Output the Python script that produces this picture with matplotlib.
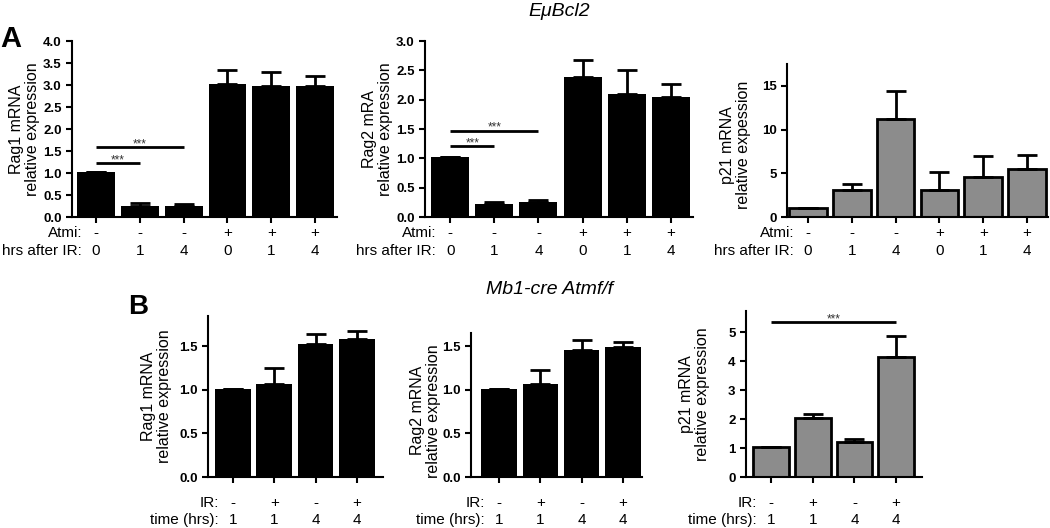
import numpy as np
import matplotlib
matplotlib.use("Agg")
import matplotlib.pyplot as plt

plt.rcParams['font.family'] = ['Liberation Sans', 'DejaVu Sans']

# panel A (EμBcl2)
atmi = ['-', '-', '-', '+', '+', '+']
hrs_after_ir = ['0', '1', '4', '0', '1', '4']
a_rag1 = [1.02, 0.26, 0.25, 3.03, 2.98, 2.97]
a_rag1_err = [0, 0.05, 0.04, 0.30, 0.32, 0.24]
a_rag2 = [1.02, 0.22, 0.26, 2.38, 2.10, 2.04]
a_rag2_err = [0, 0.04, 0.03, 0.30, 0.41, 0.22]
a_p21 = [1.03, 3.05, 11.2, 3.1, 4.6, 5.45]
a_p21_err = [0, 0.75, 3.2, 2.0, 2.4, 1.6]

# panel B (Mb1-cre Atmf/f)
ir = ['-', '+', '-', '+']
time_hrs = ['1', '1', '4', '4']
b_rag1 = [1.01, 1.07, 1.53, 1.59]
b_rag1_err = [0, 0.18, 0.11, 0.09]
b_rag2 = [1.01, 1.07, 1.46, 1.485]
b_rag2_err = [0, 0.155, 0.11, 0.065]
b_p21 = [1.02, 2.02, 1.22, 4.14]
b_p21_err = [0, 0.15, 0.10, 0.72]

W, H = 1050, 528
fig = plt.figure(figsize=(W / 100, H / 100), dpi=100)


def add_ax(left, top, right, bottom):
    return fig.add_axes([left / W, 1 - bottom / H, (right - left) / W, (bottom - top) / H])


def panel(ax, vals, errs, color, ylabel, ylim, yticks, fmt, xlim, rows, row_names,
          row_off, label_x, label_y=0.5, edge_lw=0):
    x = np.arange(len(vals))
    lower = [0] * len(vals)
    ax.bar(x, vals, width=0.86, color=color, edgecolor='black', linewidth=edge_lw,
           yerr=[lower, errs], capsize=7,
           error_kw=dict(elinewidth=2, capthick=2, ecolor='black'), zorder=2)
    ax.set_xlim(*xlim)
    ax.set_ylim(*ylim)
    ax.set_yticks(yticks)
    ax.set_yticklabels([fmt % t for t in yticks], fontsize=9.5, fontweight='bold')
    ax.set_xticks(x)
    ax.set_xticklabels([])
    for s in ['top', 'right']:
        ax.spines[s].set_visible(False)
    for s in ['left', 'bottom']:
        ax.spines[s].set_linewidth(1.5)
    ax.tick_params(width=1.5, length=4)
    ax.set_ylabel(ylabel, fontsize=11.5, linespacing=1.1)
    ax.yaxis.set_label_coords(label_x, label_y)
    for r, (labels, name) in enumerate(zip(rows, row_names)):
        off = -row_off[r] * 0.72
        for xi, t in zip(x, labels):
            ax.annotate(t, (xi, 0), xycoords=('data', 'axes fraction'),
                        xytext=(0, off), textcoords='offset points',
                        ha='center', va='center', fontsize=11)
        ax.annotate(name, (0, 0), xycoords=('data', 'axes fraction'),
                    xytext=(-14 * 0.72, off), textcoords='offset points',
                    ha='right', va='center', fontsize=11)


def sig(ax, x0, x1, y):
    ax.plot([x0, x1], [y, y], color='black', lw=2, solid_capstyle='butt')
    ax.annotate('***', ((x0 + x1) / 2, y), xytext=(0, 0), textcoords='offset points',
                ha='center', va='baseline', fontsize=8.5, color='#333333')


ax1 = add_ax(72, 41, 337, 217)
panel(ax1, a_rag1, a_rag1_err, 'black', 'Rag1 mRNA\nrelative expression',
      (0, 4.0), np.arange(0, 4.01, 0.5), '%.1f', (-0.55, 5.5),
      [atmi, hrs_after_ir], ['Atmi:', 'hrs after IR:'], [16, 34], -0.12)
sig(ax1, 0, 1, 1.22)
sig(ax1, 0, 2, 1.58)

ax2 = add_ax(425, 41, 693, 217)
panel(ax2, a_rag2, a_rag2_err, 'black', 'Rag2 mRA\nrelative expression',
      (0, 3.0), np.arange(0, 3.01, 0.5), '%.1f', (-0.57, 5.5),
      [atmi, hrs_after_ir], ['Atmi:', 'hrs after IR:'], [16, 34], -0.12)
sig(ax2, 0, 1, 1.21)
sig(ax2, 0, 2, 1.47)

ax3 = add_ax(787, 64, 1048, 217)
panel(ax3, a_p21, a_p21_err, '#8c8c8c', 'p21 mRNA\nrelative expession',
      (0, 17.5), [0, 5, 10, 15], '%d', (-0.48, 5.48),
      [atmi, hrs_after_ir], ['Atmi:', 'hrs after IR:'], [16, 34], -0.138, 0.47,
      edge_lw=2)

ax4 = add_ax(208, 316, 383, 477)
panel(ax4, b_rag1, b_rag1_err, 'black', 'Rag1 mRNA\nrelative expression',
      (0, 1.85), [0, 0.5, 1.0, 1.5], '%.1f', (-0.6, 3.63),
      [ir, time_hrs], ['IR:', 'time (hrs):'], [26, 43], -0.206)

ax5 = add_ax(471, 333, 642, 477)
panel(ax5, b_rag2, b_rag2_err, 'black', 'Rag2 mRNA\nrelative expression',
      (0, 1.65), [0, 0.5, 1.0, 1.5], '%.1f', (-0.68, 3.46),
      [ir, time_hrs], ['IR:', 'time (hrs):'], [26, 43], -0.175, 0.46)

ax6 = add_ax(746, 311, 922, 477)
panel(ax6, b_p21, b_p21_err, '#8c8c8c', 'p21 mRNA\nrelative expression',
      (0, 5.73), [0, 1, 2, 3, 4, 5], '%d', (-0.6, 3.62),
      [ir, time_hrs], ['IR:', 'time (hrs):'], [26, 43], -0.205, edge_lw=2)
sig(ax6, 0, 3, 5.34)

fig.text(559 / W, 1 - 12 / H, 'EμBcl2', ha='center', va='center', fontsize=14, style='italic')
fig.text(550 / W, 1 - 289 / H, 'Mb1-cre Atmf/f', ha='center', va='center', fontsize=14,
         style='italic')
fig.text(11 / W, 1 - 39 / H, 'A', ha='center', va='center', fontsize=21, fontweight='bold')
fig.text(138 / W, 1 - 307 / H, 'B', ha='center', va='center', fontsize=20, fontweight='bold')

fig.savefig('out.png', dpi=100)
